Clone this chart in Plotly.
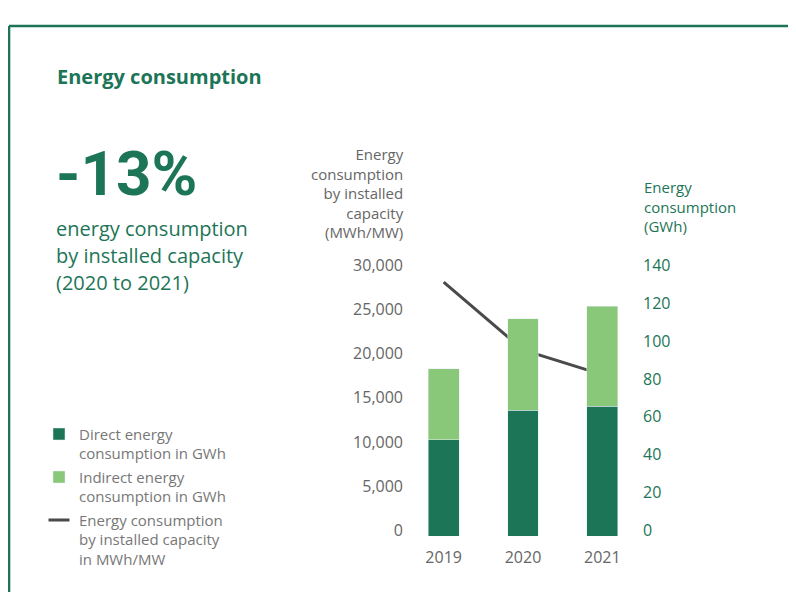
import plotly.graph_objects as go

years = ["2019", "2020", "2021"]
direct_gwh = [50.9, 66.7, 68.7]
indirect_gwh = [37.7, 48.2, 53.0]
intensity_mwh_per_mw = [28800, 21100, 18300]

left_ticks = [0, 5000, 10000, 15000, 20000, 25000, 30000]
right_ticks = [0, 20, 40, 60, 80, 100, 120, 140]

DARK = "#1d7557"
LIGHT = "#88c878"
LINE = "#4a4a4a"
GRAY = "#666666"
FONT = "Open Sans, Roboto, sans-serif"
BIG = "Roboto, Open Sans, sans-serif"

# page body has an 8px margin: figure coordinates = screen coordinates - 8
OFF = 8
W, H = 796 - 2 * OFF, 605 - 2 * OFF
def px(x):
    return (x - OFF) / W
def py(y):
    return 1 - (y - OFF) / H

fig = go.Figure()
fig.add_trace(go.Bar(x=years, y=direct_gwh, name="Direct energy<br>consumption in GWh",
                     marker_color=DARK, yaxis="y2", width=0.39, legendgroup="a"))
fig.add_trace(go.Bar(x=years, y=indirect_gwh, name="Indirect energy<br>consumption in GWh",
                     marker_color=LIGHT, yaxis="y2", width=0.39, legendgroup="b"))
fig.add_trace(go.Scatter(x=years, y=intensity_mwh_per_mw, mode="lines",
                         name="Energy consumption<br>by installed capacity<br>in MWh/MW",
                         line=dict(color=LINE, width=3), yaxis="y", showlegend=False,
                         legendgroup="c"))
# legend entry for the line (short dash, as in the reference)
fig.add_trace(go.Scatter(x=[None], y=[None], mode="markers",
                         name="Energy consumption<br>by installed capacity<br>in MWh/MW",
                         marker=dict(symbol="line-ew", size=15, line=dict(color=LINE, width=3)),
                         yaxis="y", legendgroup="c"))

fig.update_layout(
    width=W, height=H, margin=dict(l=0, r=0, t=0, b=0),
    paper_bgcolor="white", plot_bgcolor="white",
    barmode="stack",
    font=dict(family=FONT, color=GRAY, size=16),
    xaxis=dict(domain=[px(404), px(642)], showgrid=False, zeroline=False, showline=False,
               tickfont=dict(size=16, color=GRAY), ticks="", ticklabelstandoff=10),
    yaxis=dict(domain=[py(539), py(264)], range=[0, 30000], tickvals=left_ticks,
               tickformat=",d", showgrid=False, zeroline=False, showline=False,
               tickfont=dict(size=16, color=GRAY), ticks="", ticklabelshift=-6,
               ticklabelstandoff=0),
    yaxis2=dict(overlaying="y", side="right", range=[0, 140], tickvals=right_ticks,
                showgrid=False, zeroline=False, showline=False,
                tickfont=dict(size=16, color=DARK), ticks="", ticklabelshift=-6,
                ticklabelstandoff=0),
    legend=dict(x=px(39), y=py(416), xanchor="left", yanchor="top",
                font=dict(size=15, color="#777777", family=FONT), traceorder="grouped",
                tracegroupgap=1, valign="top", itemwidth=30, itemsizing="trace",
                bgcolor="rgba(0,0,0,0)"),
    showlegend=True,
)

# frame
fig.add_shape(type="line", xref="paper", yref="paper", x0=px(9), x1=1, y0=py(9), y1=py(9),
              line=dict(color=DARK, width=2.6))
fig.add_shape(type="line", xref="paper", yref="paper", x0=px(9), x1=px(9), y0=py(9), y1=0,
              line=dict(color=DARK, width=2.6))

ann = [
    dict(text="<b>Energy consumption</b>", x=px(55), y=py(61), size=20, color=DARK, xanchor="left", fam=FONT),
    dict(text="<b>-13%</b>", x=px(54), y=py(162), size=62, color=DARK, xanchor="left", fam=BIG),
    dict(text="energy consumption", x=px(54), y=py(219), size=20, color=DARK, xanchor="left", fam=FONT),
    dict(text="by installed capacity", x=px(54), y=py(247), size=20, color=DARK, xanchor="left", fam=FONT),
    dict(text="(2020 to 2021)", x=px(54), y=py(276), size=20, color=DARK, xanchor="left", fam=FONT),
    dict(text="Energy<br>consumption<br>by installed<br>capacity<br>(MWh/MW)", x=px(406), y=py(183),
         size=15, color=GRAY, xanchor="right", align="right", fam=FONT),
    dict(text="Energy<br>consumption<br>(GWh)", x=px(642), y=py(197),
         size=15, color=DARK, xanchor="left", align="left", fam=FONT),
]
for a in ann:
    fig.add_annotation(text=a["text"], x=a["x"], y=a["y"], xref="paper", yref="paper",
                       xanchor=a["xanchor"], yanchor="middle", showarrow=False,
                       align=a.get("align", "left"),
                       font=dict(size=a["size"], color=a["color"], family=a["fam"]))

fig.write_html("out.html")
